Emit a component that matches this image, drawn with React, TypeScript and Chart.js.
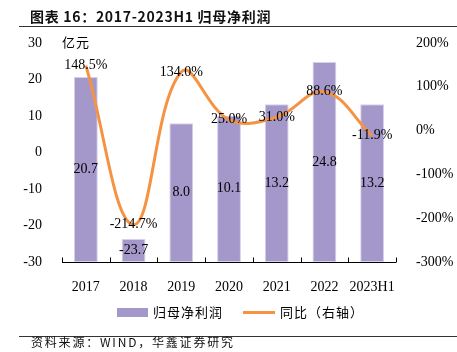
import React, { useEffect, useRef } from "react";
import { Chart, registerables } from "chart.js";

Chart.register(...registerables);

const categories = ["2017", "2018", "2019", "2020", "2021", "2022", "2023H1"];
const netProfit = [20.7, -23.7, 8.0, 10.1, 13.2, 24.8, 13.2];
const yoyGrowth = [148.5, -214.7, 134.0, 25.0, 31.0, 88.6, -11.9];
const leftTicks = { min: -30, max: 30, step: 10 };
const rightTicks = { min: -300, max: 200, step: 100 };

const W = 457;
const H = 352;
const BAR_COLOR = "#A498CB";
const LINE_COLOR = "#F59342";
const SERIF = "'Liberation Serif', 'Times New Roman', serif";
const CJK = "'Noto Sans CJK SC', sans-serif";

const labelPlugin = {
  id: "labels",
  afterDatasetsDraw(chart: any) {
    const ctx = chart.ctx;
    ctx.save();
    ctx.font = `14px ${SERIF}`;
    ctx.fillStyle = "#000";
    ctx.textAlign = "center";
    ctx.textBaseline = "middle";
    const barMeta = chart.getDatasetMeta(0);
    barMeta.data.forEach((el: any, i: number) => {
      const y = (el.y + el.base) / 2;
      ctx.fillText(netProfit[i].toFixed(1), el.x, y);
    });
    const lineMeta = chart.getDatasetMeta(1);
    lineMeta.data.forEach((el: any, i: number) => {
      ctx.fillText(yoyGrowth[i].toFixed(1) + "%", el.x, el.y);
    });
    // x axis line with upward ticks
    const { left, right, bottom } = chart.chartArea;
    ctx.strokeStyle = "#000";
    ctx.lineWidth = 1;
    ctx.beginPath();
    ctx.moveTo(left, bottom + 0.5);
    ctx.lineTo(right, bottom + 0.5);
    const n = categories.length;
    for (let i = 0; i <= n; i++) {
      const x = Math.round(left + ((right - left) * i) / n) + 0.5;
      ctx.moveTo(x, bottom + 0.5);
      ctx.lineTo(x, bottom - 4.5);
    }
    ctx.stroke();
    ctx.restore();
  },
};

function ChartCanvas() {
  const ref = useRef<HTMLCanvasElement>(null);
  useEffect(() => {
    const chart = new Chart(ref.current as HTMLCanvasElement, {
      type: "bar",
      data: {
        labels: categories,
        datasets: [
          {
            type: "bar",
            label: "归母净利润",
            data: netProfit.map((v) => [leftTicks.min, v]) as any,
            backgroundColor: BAR_COLOR,
            borderColor: "#D6D0EC",
            borderWidth: 1,
            borderSkipped: false,
            categoryPercentage: 1,
            barPercentage: 0.5,
            yAxisID: "y",
            order: 2,
          },
          {
            type: "line",
            label: "同比（右轴）",
            data: yoyGrowth,
            borderColor: LINE_COLOR,
            borderWidth: 3,
            pointRadius: 0,
            tension: 0.4,
            fill: false,
            yAxisID: "y1",
            order: 1,
          },
        ],
      },
      options: {
        responsive: false,
        animation: false,
        devicePixelRatio: 1,
        layout: { padding: { top: 43, bottom: 60, left: 0, right: 0 } },
        plugins: {
          legend: { display: false },
          tooltip: { enabled: false },
        },
        scales: {
          x: {
            grid: { display: false },
            border: { display: false },
            ticks: {
              color: "#000",
              font: { family: SERIF, size: 14 },
              padding: 9,
              maxRotation: 0,
              autoSkip: false,
            },
            afterFit: (s: any) => {
              s.height = 30;
            },
          },
          y: {
            position: "left",
            min: leftTicks.min,
            max: leftTicks.max,
            grid: { display: false },
            border: { display: false },
            ticks: {
              stepSize: leftTicks.step,
              color: "#000",
              font: { family: SERIF, size: 14 },
              padding: 12,
            },
            afterFit: (s: any) => {
              s.width = 62;
            },
          },
          y1: {
            position: "right",
            min: rightTicks.min,
            max: rightTicks.max,
            grid: { display: false },
            border: { display: false },
            ticks: {
              stepSize: rightTicks.step,
              color: "#000",
              font: { family: SERIF, size: 14 },
              padding: 12,
              callback: (v: any) => `${v}%`,
            },
            afterFit: (s: any) => {
              s.width = 61;
            },
          },
        },
      },
      plugins: [labelPlugin],
    } as any);
    return () => chart.destroy();
  }, []);
  return (
    <canvas
      ref={ref}
      width={W}
      height={H}
      style={{ position: "absolute", left: 0, top: 0, width: W, height: H }}
    />
  );
}

export default function App() {
  useEffect(() => {
    document.body.style.margin = "0";
  }, []);
  const abs = (s: React.CSSProperties): React.CSSProperties => ({
    position: "absolute",
    whiteSpace: "nowrap",
    ...s,
  });
  return (
    <div style={{ position: "relative", width: W, height: H, background: "#fff", overflow: "hidden" }}>
      <ChartCanvas />
      <div
        style={abs({
          left: 30,
          top: 6,
          fontFamily: CJK,
          fontWeight: 700,
          fontSize: 14,
          letterSpacing: 0.7,
          lineHeight: "20px",
          color: "#111",
        })}
      >
        图表 16：2017-2023H1 归母净利润
      </div>
      <div style={abs({ left: 19, top: 26, width: W - 19, height: 1, background: "#333" })} />
      <div
        style={abs({
          left: 62,
          top: 33,
          fontFamily: CJK,
          fontSize: 13,
          letterSpacing: 1,
          lineHeight: "18px",
          color: "#000",
        })}
      >
        亿元
      </div>
      <div style={abs({ left: 117, top: 308, width: 31, height: 9, background: BAR_COLOR })} />
      <div
        style={abs({
          left: 153,
          top: 303,
          fontFamily: CJK,
          fontSize: 13,
          letterSpacing: 1,
          lineHeight: "18px",
          color: "#000",
        })}
      >
        归母净利润
      </div>
      <div style={abs({ left: 243, top: 311, width: 32, height: 3, background: LINE_COLOR })} />
      <div
        style={abs({
          left: 280,
          top: 303,
          fontFamily: CJK,
          fontSize: 13,
          letterSpacing: 1,
          lineHeight: "18px",
          color: "#000",
        })}
      >
        同比（右轴）
      </div>
      <div style={abs({ left: 19, top: 336, width: W - 19, height: 1, background: "#333" })} />
      <div
        style={abs({
          left: 31,
          top: 334,
          fontFamily: CJK,
          fontSize: 12,
          letterSpacing: 1.8,
          lineHeight: "16px",
          color: "#111",
        })}
      >
        资料来源：WIND，华鑫证券研究
      </div>
    </div>
  );
}
